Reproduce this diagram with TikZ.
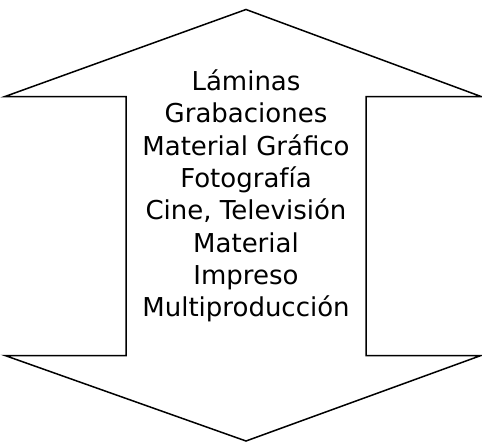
\documentclass[tikz,border=0pt]{standalone}
\usepackage{fontspec}
\setmainfont{DejaVu Sans}
\usepackage{tikz}

\begin{document}
\begin{tikzpicture}[
  x=1pt,y=-1pt,
  outline/.style={draw=black,line width=1.5pt,line join=miter},
  label/.style={align=center,font=\fontsize{26}{32.3}\selectfont,inner sep=0pt}
]
\useasboundingbox (0,0) rectangle (482,442);
% double arrow outline
\draw[outline] (246,9.5) -- (481,96.5) -- (366,96.5) -- (366,355.5)
  -- (481,355.5) -- (246,441) -- (5,355.5) -- (126,355.5)
  -- (126,96.5) -- (5,96.5) -- cycle;
\node[label] (media) at (246,196) {L\'aminas\\Grabaciones\\Material Gr\'afico\\
  Fotograf\'ia\\Cine, Televisi\'on\\Material\\Impreso\\Multiproducci\'on};
\end{tikzpicture}
\end{document}
